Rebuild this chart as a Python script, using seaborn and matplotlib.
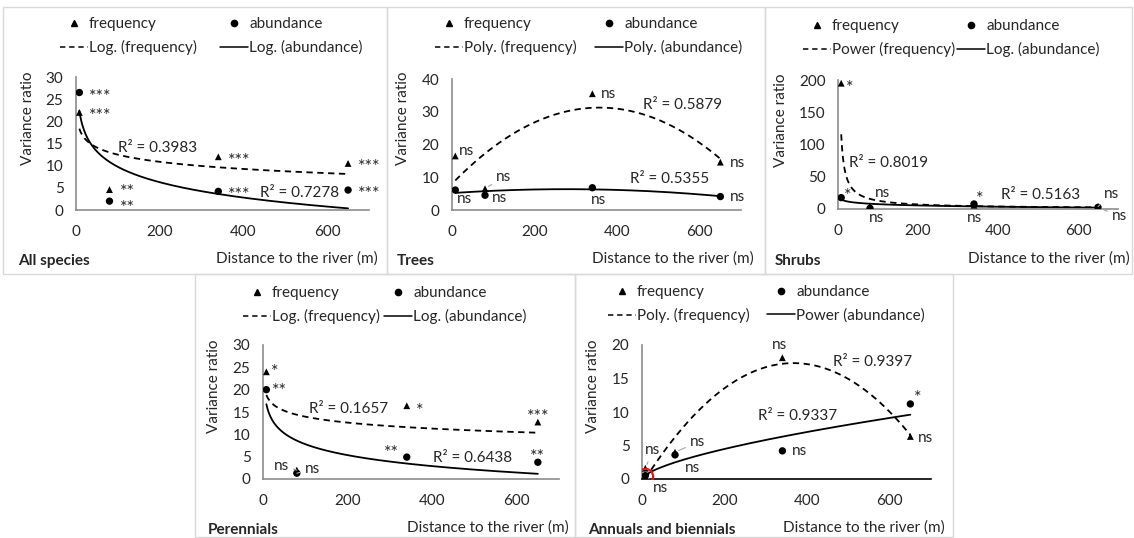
import numpy as np
import matplotlib.pyplot as plt
import seaborn as sns
from matplotlib.lines import Line2D
from matplotlib.patches import Rectangle

# distance to the river (m) of the four sampling belts
distance = [8, 80, 340, 650]

# variance ratios
all_freq = [22.0, 4.6, 12.0, 10.5]
all_abund = [26.5, 2.0, 4.2, 4.5]
tree_freq = [16.5, 6.5, 35.5, 14.6]
tree_abund = [6.1, 4.5, 6.8, 4.1]
shrub_freq = [195.0, 4.8, 5.9, 3.7]
shrub_abund = [17.6, 1.0, 7.8, 2.6]
peren_freq = [24.0, 2.0, 16.4, 12.75]
peren_abund = [20.0, 1.3, 4.9, 3.75]
annual_freq = [1.6, 4.0, 18.1, 6.35]
annual_abund = [0.5, 3.6, 4.2, 11.2]

# significance labels
all_freq_sig = ['***', '**', '***', '***']
all_abund_sig = ['***', '**', '***', '***']
tree_freq_sig = ['ns', 'ns', 'ns', 'ns']
tree_abund_sig = ['ns', 'ns', 'ns', 'ns']
shrub_freq_sig = ['*', 'ns', 'ns', 'ns']
shrub_abund_sig = ['*', 'ns', '*', 'ns']
peren_freq_sig = ['*', 'ns', '*', '***']
peren_abund_sig = ['**', 'ns', '**', '**']
annual_freq_sig = ['ns', 'ns', 'ns', 'ns']
annual_abund_sig = ['ns', 'ns', 'ns', '*']

W, H = 1134, 538
FONT = 11
TXT = '#262626'
AXC = '#8c8c8c'

sns.set_theme(style='white')
plt.rcParams['font.family'] = ['Lato', 'DejaVu Sans']


def trend(x, y, kind):
    x = np.asarray(x, float)
    y = np.asarray(y, float)
    xx = np.linspace(x.min(), x.max(), 300)
    if kind == 'Log.':
        c = np.polyfit(np.log(x), y, 1)
        yy = np.polyval(c, np.log(xx))
    elif kind == 'Poly.':
        c = np.polyfit(x, y, 2)
        yy = np.polyval(c, xx)
    else:  # Power
        c = np.polyfit(np.log(x), np.log(y), 1)
        yy = np.exp(np.polyval(c, np.log(xx)))
    return xx, yy


panels = [
    dict(title='All species', freq=all_freq, abund=all_abund, fsig=all_freq_sig, asig=all_abund_sig,
         ffit='Log.', afit='Log.', ymax=30, ystep=5, box=(76, 77, 293, 210),
         frame=(3, 7, 387, 274), leg=(60, 220, 17), ylab=(28, 118), foot=(18, 378, 261),
         r2=[(100, 14.0, '0.3983'), (440, 3.8, '0.7278')],
         foff=[(10, 2, 'left', 0), (10, 4, 'left', 0), (10, 2, 'left', 0), (10, 2, 'left', 0)],
         aoff=[(10, 2, 'left', 0), (10, -1, 'left', 0), (10, 2, 'left', 0), (10, 2, 'left', 0)]),
    dict(title='Trees', freq=tree_freq, abund=tree_abund, fsig=tree_freq_sig, asig=tree_abund_sig,
         ffit='Poly.', afit='Poly.', ymax=40, ystep=10, box=(452, 79, 289, 210),
         frame=(387, 7, 765, 274), leg=(435, 595, 17), ylab=(403, 118), foot=(397, 754, 261),
         r2=[(463, 32, '0.5879'), (430, 9.5, '0.5355')],
         foff=[(4, 5, 'left', 0), (11, 12, 'left', 1), (9, 0, 'left', 0), (10, -1, 'left', 0)],
         aoff=[(2, -9, 'left', 0), (7, -3, 'left', 0), (-1, -12, 'left', 0), (10, 0, 'left', 0)]),
    dict(title='Shrubs', freq=shrub_freq, abund=shrub_abund, fsig=shrub_freq_sig, asig=shrub_abund_sig,
         ffit='Power', afit='Log.', ymax=200, ystep=50, box=(838, 80, 280, 209),
         frame=(765, 7, 1132, 274), leg=(803, 957, 19), ylab=(781, 120), foot=(775, 1130, 261),
         r2=[(27, 71, '0.8019'), (408, 22, '0.5163')],
         foff=[(5, 1, 'left', 0), (5, 13, 'left', 0), (-7, -13, 'left', 0), (6, 13, 'left', 1)],
         aoff=[(3, 8, 'left', 0), (-1, -10, 'left', 0), (2, 11, 'left', 0), (14, -9, 'left', 1)]),
    dict(title='Perennials', freq=peren_freq, abund=peren_abund, fsig=peren_freq_sig, asig=peren_abund_sig,
         ffit='Log.', afit='Log.', ymax=30, ystep=5, box=(263, 345, 296, 479),
         frame=(195, 274, 575, 537), leg=(243, 384, 286), ylab=(214, 386), foot=(208, 569, 530),
         r2=[(108, 15.75, '0.1657'), (402, 4.65, '0.6438')],
         foff=[(5, 6, 'left', 0), (-8, 4, 'right', 1), (9, 1, 'left', 0), (0, 11, 'center', 0)],
         aoff=[(6, 5, 'left', 0), (8, 4, 'left', 1), (-8, 10, 'right', 0), (0, 11, 'center', 0)]),
    dict(title='Annuals and biennials', freq=annual_freq, abund=annual_abund, fsig=annual_freq_sig,
         asig=annual_abund_sig, ffit='Poly.', afit='Power', ymax=20, ystep=5, box=(642, 345, 289, 479),
         frame=(575, 274, 953, 537), leg=(608, 767, 285), ylab=(593, 386), foot=(588, 945, 530),
         r2=[(463, 17.5, '0.9397'), (280, 9.35, '0.9337')],
         foff=[(0, 18, 'left', 1), (15, 10, 'left', 1), (-3, 13, 'center', 0), (8, -2, 'left', 0)],
         aoff=[(8, -12, 'left', 1), (10, -13, 'left', 0), (10, 0, 'left', 0), (4, 12, 'left', 0)]),
]

fig = plt.figure(figsize=(W / 100, H / 100), dpi=100)

for p in panels:
    x0, y0, x1, y1 = p['frame']
    fig.add_artist(Rectangle((x0 / W, 1 - y1 / H), (x1 - x0) / W, (y1 - y0) / H,
                             transform=fig.transFigure, fill=False, ec='#d9d9d9', lw=1))

    L, T, Wd, B = p['box']
    ax = fig.add_axes([L / W, 1 - B / H, Wd / W, (B - T) / H])
    ax.set_facecolor('none')

    # trend lines fitted from the points
    xx, yy = trend(distance, p['freq'], p['ffit'])
    sns.lineplot(x=xx, y=yy, ax=ax, color='black', lw=1.3, linestyle=(0, (3.5, 2.5)), sort=False)
    xx, yy = trend(distance, p['abund'], p['afit'])
    sns.lineplot(x=xx, y=yy, ax=ax, color='black', lw=1.3, sort=False)

    sns.scatterplot(x=distance, y=p['abund'], ax=ax, marker='o', s=28, color='black', edgecolor='none', zorder=3)
    sns.scatterplot(x=distance, y=p['freq'], ax=ax, marker='^', s=24, color='black', edgecolor='none', zorder=3)

    # significance labels (asterisks sit high in the font, so pull them down)
    for series, sig, offs in ((p['freq'], p['fsig'], p['foff']), (p['abund'], p['asig'], p['aoff'])):
        for xv, yv, s, (dx, dy, ha, lead) in zip(distance, series, sig, offs):
            kw = {}
            if lead:
                kw['arrowprops'] = dict(arrowstyle='-', color='#a6a6a6', lw=0.8, shrinkA=1, shrinkB=3)
            fs = FONT
            if s.startswith('*'):
                dy -= 6
                fs = 13
            ax.annotate(s, (xv, yv), xytext=(dx, dy), textcoords='offset pixels', ha=ha, va='center',
                        fontsize=fs, color=TXT, **kw)

    for xv, yv, r in p['r2']:
        ax.text(xv, yv, 'R² = ' + r, fontsize=FONT, color=TXT, ha='left', va='center')

    ax.set_xlim(0, 700)
    ax.set_ylim(0, p['ymax'])
    ax.set_xticks([0, 200, 400, 600])
    ax.set_yticks(np.arange(0, p['ymax'] + 1, p['ystep']))
    ax.tick_params(length=0, labelsize=FONT, labelcolor=TXT)
    ax.tick_params(axis='x', pad=11)
    ax.tick_params(axis='y', pad=9)
    for side in ('top', 'right'):
        ax.spines[side].set_visible(False)
    for side in ('left', 'bottom'):
        ax.spines[side].set_color(AXC)
        ax.spines[side].set_linewidth(1.2)
    ax.set_xlabel('')
    ax.set_ylabel('')

    if p['title'] == 'Annuals and biennials':
        ax.spines['bottom'].set_color('black')
        ax.plot(distance[0], p['abund'][0], marker='o', ms=11, mfc='none', mec='#e0161b', mew=1.6, zorder=4)

    # legends, one column each
    lx1, lx2, ly = p['leg']
    tri = Line2D([], [], marker='^', ms=4.5, color='black', ls='none')
    dot = Line2D([], [], marker='o', ms=4.5, color='black', ls='none')
    dash = Line2D([], [], color='black', lw=1.1, ls=(0, (3.5, 2.5)))
    solid = Line2D([], [], color='black', lw=1.1)
    common = dict(loc='upper left', frameon=False, borderpad=0, borderaxespad=0, handlelength=1.8,
                  handletextpad=0.1, labelspacing=0.6, fontsize=FONT, labelcolor=TXT)
    fig.legend([tri, dash], ['frequency', p['ffit'] + ' (frequency)'],
               bbox_to_anchor=(lx1 / W, 1 - ly / H), **common)
    fig.legend([dot, solid], ['abundance', p['afit'] + ' (abundance)'],
               bbox_to_anchor=(lx2 / W, 1 - ly / H), **common)

    yx, yc = p['ylab']
    fig.text(yx / W, 1 - yc / H, 'Variance ratio', rotation=90, ha='center', va='center',
             fontsize=FONT, color=TXT)
    tx, dx_, fy = p['foot']
    fig.text(tx / W, 1 - fy / H, p['title'], ha='left', va='center', fontsize=FONT,
             fontweight='bold', color=TXT)
    fig.text(dx_ / W, 1 - (fy - 2) / H, 'Distance to the river (m)', ha='right', va='center',
             fontsize=FONT, color=TXT)

fig.savefig('out.png', dpi=100)
